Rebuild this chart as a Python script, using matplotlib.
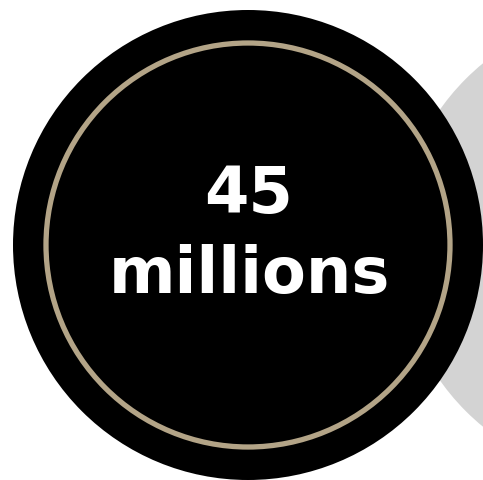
import matplotlib
matplotlib.use('Agg')
import matplotlib.pyplot as plt
from matplotlib.patches import Circle

# data
value = '45'
unit = 'millions'

# circles: (center x, center y, radius) in pixel coords of the picture
back_circle = (632, 245, 235)
main_circle = (248, 245, 235)
ring_radius = 202

fig = plt.figure(figsize=(4.83, 4.80), dpi=100)
ax = fig.add_axes([0, 0, 1, 1])
ax.set_xlim(0, 483)
ax.set_ylim(480, 0)
ax.set_aspect('equal')
ax.axis('off')

ax.add_patch(Circle(back_circle[:2], back_circle[2], color='#d3d3d3', lw=0))
ax.add_patch(Circle(main_circle[:2], main_circle[2], color='black', lw=0))
ax.add_patch(Circle(main_circle[:2], ring_radius, fill=False, ec='#b3a487', lw=3.8))

ax.text(249, 213, value, color='white', fontsize=46, fontweight='bold',
        ha='center', va='baseline', family='DejaVu Sans')
ax.text(249, 293, unit, color='white', fontsize=46, fontweight='bold',
        ha='center', va='baseline', family='DejaVu Sans')

fig.savefig('out.png', dpi=100, facecolor='white')
